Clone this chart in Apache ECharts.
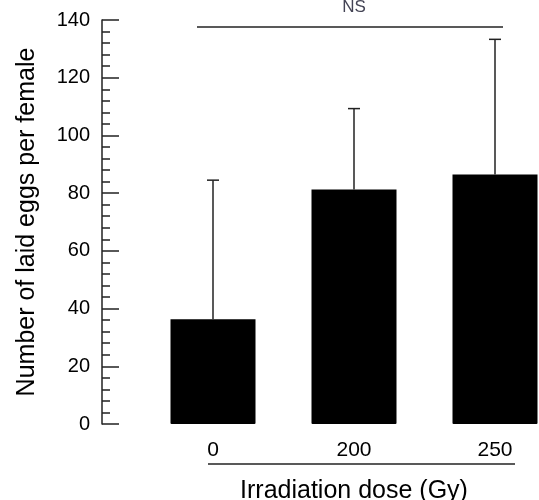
<!DOCTYPE html>
<html>
<head>
<meta charset="utf-8">
<script src="https://cdn.jsdelivr.net/npm/echarts@6/dist/echarts.min.js"></script>
<style>html,body{margin:0;padding:0;background:#fff;overflow:hidden}#c{width:539px;height:500px}</style>
</head>
<body>
<div id="c"></div>
<script>
var categories = ['0', '200', '250'];
var means = [36.3, 81.3, 86.5];
var upperErr = [84.5, 109.3, 133.3];
var yMin = 0, yMax = 140, yInterval = 20;
var nsLevel = 137.6;
var nsText = 'NS';
var xTitle = 'Irradiation dose (Gy)';
var yTitle = 'Number of laid eggs per female';

var FONT = 'Liberation Sans, Arial, sans-serif';
var chart = echarts.init(document.getElementById('c'), null, {renderer: 'canvas'});
var errData = categories.map(function (c, i) { return [i, means[i], upperErr[i]]; });

chart.setOption({
  animation: false,
  backgroundColor: '#fff',
  grid: {left: 213, width: 282, top: 20, height: 404, containLabel: false, outerBoundsMode: 'none'},
  xAxis: {
    type: 'category', data: categories, boundaryGap: false,
    axisLine: {show: false}, axisTick: {show: false},
    axisLabel: {fontFamily: FONT, fontSize: 21, color: '#000', margin: 16},
    name: xTitle, nameLocation: 'middle', nameGap: 55,
    nameTextStyle: {fontFamily: FONT, fontSize: 25, color: '#000'}
  },
  yAxis: {
    type: 'value', min: yMin, max: yMax, interval: yInterval, offset: 111,
    axisLine: {show: true, lineStyle: {color: '#222', width: 1.5}},
    axisTick: {show: true, inside: true, length: 17, lineStyle: {color: '#222', width: 1.5}},
    minorTick: {show: true, splitNumber: 5, length: 8, lineStyle: {color: '#222', width: 1.5}},
    splitLine: {show: false},
    axisLabel: {fontFamily: FONT, fontSize: 20, color: '#000', margin: 12},
    name: yTitle, nameLocation: 'middle', nameGap: 62, nameRotate: 90,
    nameTextStyle: {fontFamily: FONT, fontSize: 25, color: '#000'}
  },
  series: [
    {type: 'bar', data: means, barWidth: 85, clip: false, itemStyle: {color: '#000', borderRadius: [0, 0, 1, 1]}, z: 2},
    {
      type: 'custom', data: errData, z: 3, clip: false,
      renderItem: function (params, api) {
        var x = api.value(0);
        var lo = api.coord([x, api.value(1)]);
        var hi = api.coord([x, api.value(2)]);
        var st = {stroke: '#222', lineWidth: 1.5};
        return {type: 'group', children: [
          {type: 'line', shape: {x1: lo[0], y1: lo[1], x2: hi[0], y2: hi[1]}, style: st},
          {type: 'line', shape: {x1: hi[0] - 6, y1: hi[1], x2: hi[0] + 6, y2: hi[1]}, style: st}
        ]};
      }
    }
  ]
});

var c0 = chart.convertToPixel({xAxisIndex: 0, yAxisIndex: 0}, [0, nsLevel]);
var c2 = chart.convertToPixel({xAxisIndex: 0, yAxisIndex: 0}, [2, nsLevel]);
var base = chart.convertToPixel({xAxisIndex: 0, yAxisIndex: 0}, [0, yMin]);
chart.setOption({
  graphic: [
    {type: 'line', shape: {x1: c0[0] - 16, y1: c0[1], x2: c2[0] + 8, y2: c2[1]}, style: {stroke: '#222', lineWidth: 1.5}},
    {type: 'text', x: (c0[0] + c2[0]) / 2, y: c0[1] - 11, style: {text: nsText, font: '17px ' + FONT, fill: '#445', textAlign: 'center', textVerticalAlign: 'bottom'}},
    {type: 'line', shape: {x1: c0[0] - 5, y1: base[1] + 40, x2: c2[0] + 20, y2: base[1] + 40}, style: {stroke: '#222', lineWidth: 1.5}}
  ]
});
</script>
</body>
</html>
